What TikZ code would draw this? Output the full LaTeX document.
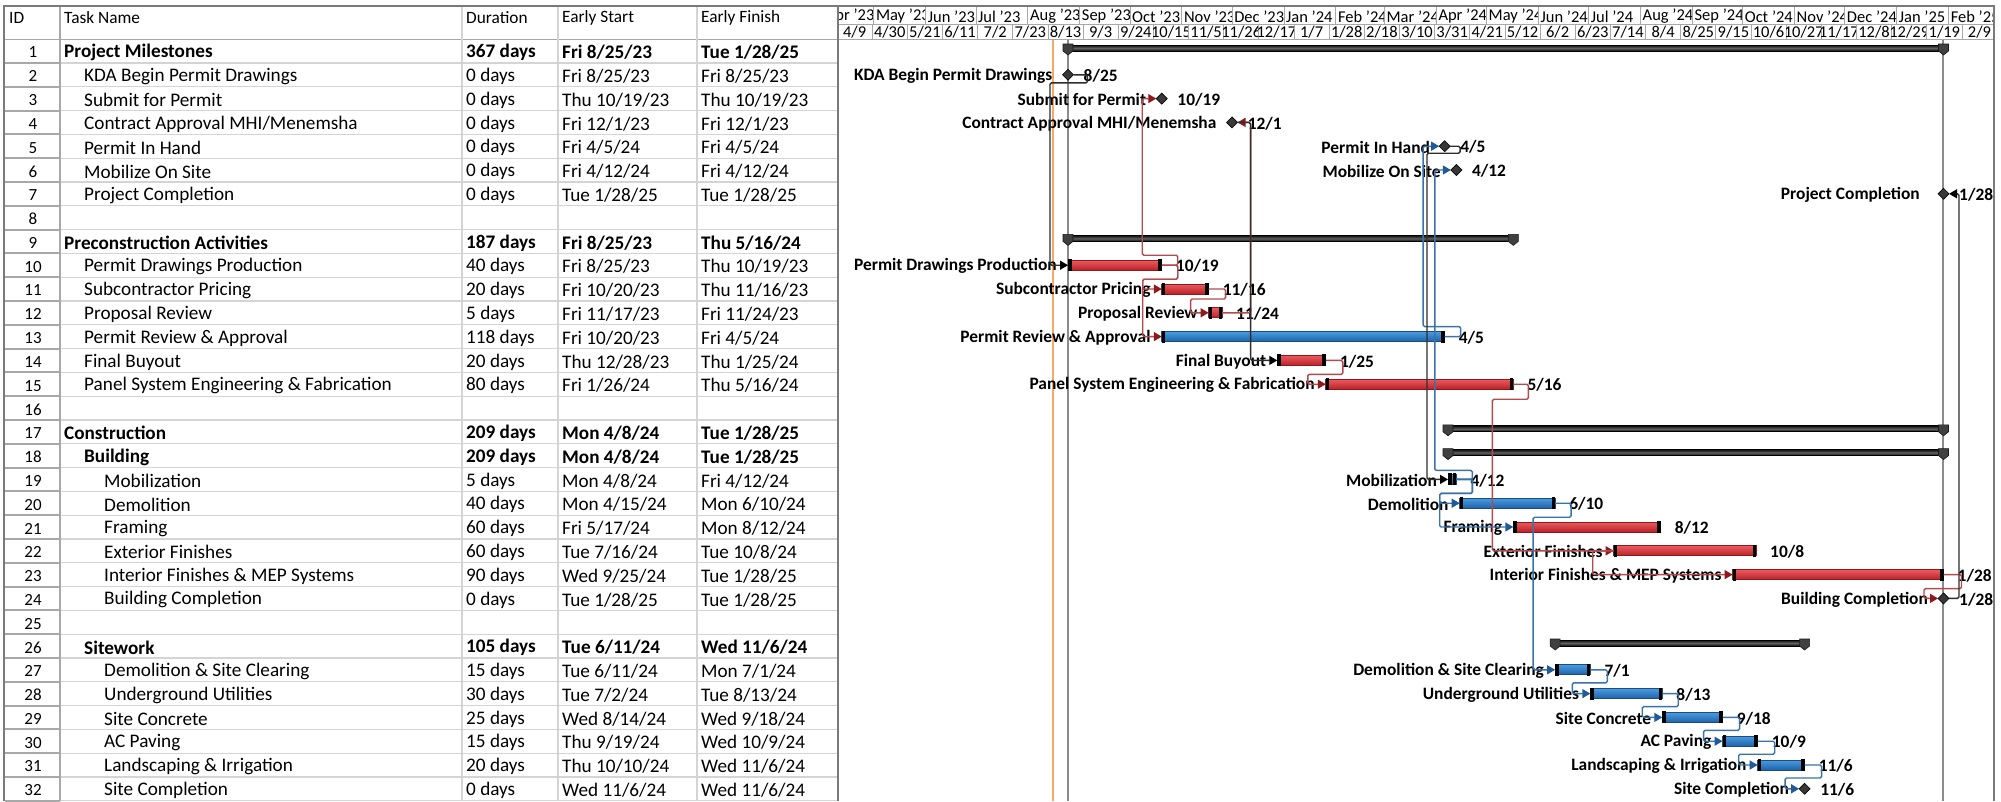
\documentclass[tikz,border=0pt]{standalone}
\usepackage{fontspec}
\setmainfont{Carlito}
\usetikzlibrary{arrows.meta,shapes.geometric}
\definecolor{redT}{HTML}{EC5A5E}
\definecolor{redD}{HTML}{B82228}
\definecolor{redB}{HTML}{8A1A1E}
\definecolor{bluT}{HTML}{4A9BE0}
\definecolor{bluD}{HTML}{1E62A8}
\definecolor{bluB}{HTML}{1A4C80}
\definecolor{linkR}{HTML}{B44A4E}
\definecolor{arrR}{HTML}{8E1A1E}
\definecolor{linkB}{HTML}{3A73AC}
\definecolor{arrB}{HTML}{1F5B98}
\definecolor{linkK}{HTML}{2E2E2E}
\definecolor{orangeL}{HTML}{F6A868}
\definecolor{gridL}{HTML}{D4D4D4}
\definecolor{gridM}{HTML}{A8A8A8}
\definecolor{frameC}{HTML}{7A7A7A}
\definecolor{projL}{HTML}{8C8C8C}

\newcommand\tbar[7]{%
  \pgfmathsetmacro\xa{1068+1.674*(#3)}%
  \pgfmathsetmacro\xb{1068+1.674*(#4)}%
  \pgfmathsetmacro\yy{51+23.8*(#2-1)}%
  \pgfmathsetmacro\ww{\xb-\xa}%
  \node[#5, minimum width=\ww pt, anchor=west] (#1) at (\xa,\yy) {};
  \fill[black] (\xa,\yy-6) rectangle (\xa+3.5,\yy+6);
  \fill[black] (\xb-3.5,\yy-6) rectangle (\xb,\yy+6);
  \node[clabel, anchor=east] (#1n) at ([xshift=-11pt,yshift=-1pt]#1.west) {#6};
  \node[clabel, anchor=west] (#1d) at ([xshift=14pt,yshift=-1pt]#1.east) {#7};
}
\newcommand\mst[6]{%
  \pgfmathsetmacro\xa{1068+1.674*(#3)}%
  \pgfmathsetmacro\yy{51+23.8*(#2-1)}%
  \node[msd] (#1) at (\xa,\yy) {};
  \node[clabel, anchor=east] (#1n) at ([xshift=-#6pt,yshift=-1pt]#1.west) {#4};
  \node[clabel, anchor=west] (#1d) at ([xshift=10pt,yshift=-1pt]#1.east) {#5};
}
\newcommand\sbar[4]{%
  \pgfmathsetmacro\xa{1068+1.674*(#3)}%
  \pgfmathsetmacro\xb{1068+1.674*(#4)}%
  \pgfmathsetmacro\yy{51+23.8*(#2-1)}%
  \pgfmathsetmacro\ww{\xb-\xa}%
  \node[sumbar, minimum width=\ww pt, anchor=west] (#1) at (\xa,\yy-3) {};
  \filldraw[sumcap] (\xa-5,\yy-7) -- (\xa+5,\yy-7) -- (\xa+5,\yy) -- (\xa,\yy+4) -- (\xa-5,\yy) -- cycle;
  \filldraw[sumcap] (\xb-5,\yy-7) -- (\xb+5,\yy-7) -- (\xb+5,\yy) -- (\xb,\yy+4) -- (\xb-5,\yy) -- cycle;
}
\newcommand\trow[7]{%
  \pgfmathsetmacro\yy{51+23.8*(#1-1)+1.5}%
  \node[idf] (id#1) at (33,\yy) {#1};
  \node[#3, anchor=west] (tn#1) at (#2,\yy) {#4};
  \node[#3, anchor=west] (du#1) at (466,\yy) {#5};
  \node[#3, anchor=west] (es#1) at (562,\yy) {#6};
  \node[#3, anchor=west] (ef#1) at (701,\yy) {#7};
}
\newcommand\erow[1]{%
  \pgfmathsetmacro\yy{51+23.8*(#1-1)+1.5}%
  \node[idf] (id#1) at (33,\yy) {#1};
}

\begin{document}
\begin{tikzpicture}[x=1pt,y=-1pt,
  redbar/.style={draw=redB, line width=0.8pt, top color=redT, bottom color=redD, minimum height=10pt, inner sep=0pt, outer sep=0pt},
  bluebar/.style={draw=bluB, line width=0.8pt, top color=bluT, bottom color=bluD, minimum height=10pt, inner sep=0pt, outer sep=0pt},
  sumbar/.style={draw=black, line width=0.8pt, top color=black!95, bottom color=black!95, middle color=black!62, minimum height=6pt, inner sep=0pt, outer sep=0pt},
  sumcap/.style={fill=black!75, draw=black!90, line width=0.6pt},
  msd/.style={diamond, aspect=1, minimum width=11pt, minimum height=11pt, inner sep=0pt, outer sep=0pt, fill=black!78, draw=black, line width=0.6pt},
  clabel/.style={font=\fontsize{17.4}{19}\selectfont\bfseries, inner sep=0pt, text=black},
  treg/.style={font=\fontsize{19.2}{21}\selectfont, inner sep=0pt},
  tbold/.style={font=\fontsize{19.2}{21}\selectfont\bfseries, inner sep=0pt},
  idf/.style={font=\fontsize{17}{19}\selectfont, inner sep=0pt},
  hdr/.style={font=\fontsize{17.3}{19}\selectfont, inner sep=0pt, anchor=west},
  tsf/.style={font=\fontsize{16.5}{18}\selectfont, inner sep=0pt},
  rlink/.style={draw=linkR, line width=1.4pt, rounded corners=1.5pt, -{Triangle[length=8pt,width=9pt,color=arrR]}},
  blink/.style={draw=linkB, line width=1.4pt, rounded corners=1.5pt, -{Triangle[length=8pt,width=9pt,color=arrB]}},
  klink/.style={draw=linkK, line width=1.4pt, rounded corners=1.5pt, -{Triangle[length=8pt,width=9pt,color=black]}}
]
\useasboundingbox (0,0) rectangle (2001,801);
\fill[white] (0,0) rectangle (2001,801);

% ---------- table grid ----------
\foreach \r in {1,...,32} {
  \pgfmathsetmacro\yb{51+23.8*(\r-1)+11.9}
  \draw[gridL, line width=1.2pt] (60,\yb) -- (838,\yb);
  \draw[gridM, line width=2pt] (5,\yb) -- (60,\yb);
}
\draw[gridM, line width=1.5pt] (5,39.5) -- (838,39.5);
\foreach \x in {462,558,697} \draw[gridL, line width=1.2pt] (\x,7) -- (\x,801);
\draw[gridM, line width=2pt] (60,7) -- (60,801);

% ---------- table header ----------
\node[hdr] (hid) at (9,18) {ID};
\node[hdr] (htn) at (64,18) {Task Name};
\node[hdr] (hdu) at (466,18) {Duration};
\node[hdr] (hes) at (562,18) {Early Start};
\node[hdr] (hef) at (701,18) {Early Finish};

% ---------- table rows ----------
\trow{1}{64}{tbold}{Project Milestones}{367 days}{Fri 8/25/23}{Tue 1/28/25}
\trow{2}{84}{treg}{KDA Begin Permit Drawings}{0 days}{Fri 8/25/23}{Fri 8/25/23}
\trow{3}{84}{treg}{Submit for Permit}{0 days}{Thu 10/19/23}{Thu 10/19/23}
\trow{4}{84}{treg}{Contract Approval MHI/Menemsha}{0 days}{Fri 12/1/23}{Fri 12/1/23}
\trow{5}{84}{treg}{Permit In Hand}{0 days}{Fri 4/5/24}{Fri 4/5/24}
\trow{6}{84}{treg}{Mobilize On Site}{0 days}{Fri 4/12/24}{Fri 4/12/24}
\trow{7}{84}{treg}{Project Completion}{0 days}{Tue 1/28/25}{Tue 1/28/25}
\erow{8}
\trow{9}{64}{tbold}{Preconstruction Activities}{187 days}{Fri 8/25/23}{Thu 5/16/24}
\trow{10}{84}{treg}{Permit Drawings Production}{40 days}{Fri 8/25/23}{Thu 10/19/23}
\trow{11}{84}{treg}{Subcontractor Pricing}{20 days}{Fri 10/20/23}{Thu 11/16/23}
\trow{12}{84}{treg}{Proposal Review}{5 days}{Fri 11/17/23}{Fri 11/24/23}
\trow{13}{84}{treg}{Permit Review \& Approval}{118 days}{Fri 10/20/23}{Fri 4/5/24}
\trow{14}{84}{treg}{Final Buyout}{20 days}{Thu 12/28/23}{Thu 1/25/24}
\trow{15}{84}{treg}{Panel System Engineering \& Fabrication}{80 days}{Fri 1/26/24}{Thu 5/16/24}
\erow{16}
\trow{17}{64}{tbold}{Construction}{209 days}{Mon 4/8/24}{Tue 1/28/25}
\trow{18}{84}{tbold}{Building}{209 days}{Mon 4/8/24}{Tue 1/28/25}
\trow{19}{104}{treg}{Mobilization}{5 days}{Mon 4/8/24}{Fri 4/12/24}
\trow{20}{104}{treg}{Demolition}{40 days}{Mon 4/15/24}{Mon 6/10/24}
\trow{21}{104}{treg}{Framing}{60 days}{Fri 5/17/24}{Mon 8/12/24}
\trow{22}{104}{treg}{Exterior Finishes}{60 days}{Tue 7/16/24}{Tue 10/8/24}
\trow{23}{104}{treg}{Interior Finishes \& MEP Systems}{90 days}{Wed 9/25/24}{Tue 1/28/25}
\trow{24}{104}{treg}{Building Completion}{0 days}{Tue 1/28/25}{Tue 1/28/25}
\erow{25}
\trow{26}{84}{tbold}{Sitework}{105 days}{Tue 6/11/24}{Wed 11/6/24}
\trow{27}{104}{treg}{Demolition \& Site Clearing}{15 days}{Tue 6/11/24}{Mon 7/1/24}
\trow{28}{104}{treg}{Underground Utilities}{30 days}{Tue 7/2/24}{Tue 8/13/24}
\trow{29}{104}{treg}{Site Concrete}{25 days}{Wed 8/14/24}{Wed 9/18/24}
\trow{30}{104}{treg}{AC Paving}{15 days}{Thu 9/19/24}{Wed 10/9/24}
\trow{31}{104}{treg}{Landscaping \& Irrigation}{20 days}{Thu 10/10/24}{Wed 11/6/24}
\trow{32}{104}{treg}{Site Completion}{0 days}{Wed 11/6/24}{Wed 11/6/24}

% ---------- timescale ----------
\foreach \s/\e/\t [count=\i] in {-146/-116/{Apr '23},-116/-85/{May '23},-85/-55/{Jun '23},-55/-24/{Jul '23},-24/7/{Aug '23},7/37/{Sep '23},37/68/{Oct '23},68/98/{Nov '23},98/129/{Dec '23},129/160/{Jan '24},160/189/{Feb '24},189/220/{Mar '24},220/250/{Apr '24},250/281/{May '24},281/311/{Jun '24},311/342/{Jul '24},342/373/{Aug '24},373/403/{Sep '24},403/434/{Oct '24},434/464/{Nov '24},464/495/{Dec '24},495/526/{Jan '25},526/554/{Feb '25}} {
  \pgfmathsetmacro\xa{max(838,1068+1.674*(\s))}
  \pgfmathsetmacro\xb{min(1994,1068+1.674*(\e))}
  \pgfmathsetmacro\xt{1068+1.674*(\s)+2}
  \begin{scope}
    \clip (\xa,7) rectangle (\xb,24);
    \node[tsf, anchor=west] (mon\i) at (\xt,16.5) {\t};
  \end{scope}
  \draw[gridM, line width=0.8pt] (\xb,7) -- (\xb,24);
}
\foreach \s/\t [count=\i] in {-159/{3/19},-138/{4/9},-117/{4/30},-96/{5/21},-75/{6/11},-54/{7/2},-33/{7/23},-12/{8/13},9/{9/3},30/{9/24},51/{10/15},72/{11/5},93/{11/26},114/{12/17},135/{1/7},156/{1/28},177/{2/18},198/{3/10},219/{3/31},240/{4/21},261/{5/12},282/{6/2},303/{6/23},324/{7/14},345/{8/4},366/{8/25},387/{9/15},408/{10/6},429/{10/27},450/{11/17},471/{12/8},492/{12/29},513/{1/19},534/{2/9}} {
  \pgfmathsetmacro\xa{max(838,1068+1.674*(\s))}
  \pgfmathsetmacro\xb{min(1994,1068+1.674*(\s+21))}
  \pgfmathsetmacro\xt{1068+1.674*(\s+10.5)}
  \begin{scope}
    \clip (\xa,24) rectangle (\xb,39.5);
    \node[tsf] (wk\i) at (\xt,32) {\t};
  \end{scope}
  \draw[gridM, line width=0.8pt] (\xb,24) -- (\xb,39.5);
}
\draw[gridM, line width=0.8pt] (838,24) -- (1994,24);
\draw[gridM, line width=1.2pt] (838,39.5) -- (1994,39.5);

% ---------- frame ----------
\draw[frameC, line width=2.5pt] (838,7) -- (838,801);
\draw[frameC, line width=1.5pt] (4,801) -- (4,6) -- (1994,6) -- (1994,801);

% ---------- chart verticals ----------
\draw[orangeL, line width=1.6pt] (1053,40) -- (1053,801);
\draw[projL, line width=2pt] (1068,40) -- (1068,801);
\draw[projL, line width=2pt] (1943,40) -- (1943,801);

% ---------- summaries ----------
\sbar{s1}{1}{0}{523}
\sbar{s9}{9}{0}{266}
\sbar{s17}{17}{227}{523}
\sbar{s18}{18}{227}{523}
\sbar{s26}{26}{291}{440}

% ---------- bars ----------
\tbar{b10}{10}{0}{56}{redbar}{Permit Drawings Production}{10/19}
\tbar{b11}{11}{56}{84}{redbar}{Subcontractor Pricing}{11/16}
\tbar{b12}{12}{84}{92}{redbar}{Proposal Review}{11/24}
\tbar{b13}{13}{56}{225}{bluebar}{Permit Review \& Approval}{4/5}
\tbar{b14}{14}{125}{154}{redbar}{Final Buyout}{1/25}
\tbar{b15}{15}{154}{266}{redbar}{Panel System Engineering \& Fabrication}{5/16}
\tbar{b19}{19}{227}{232}{bluebar}{Mobilization}{4/12}
\tbar{b20}{20}{234}{291}{bluebar}{Demolition}{6/10}
\tbar{b21}{21}{266}{354}{redbar}{Framing}{8/12}
\tbar{b22}{22}{326}{411}{redbar}{Exterior Finishes}{10/8}
\tbar{b23}{23}{397}{523}{redbar}{Interior Finishes \& MEP Systems}{1/28}
\tbar{b27}{27}{291}{312}{bluebar}{Demolition \& Site Clearing}{7/1}
\tbar{b28}{28}{312}{355}{bluebar}{Underground Utilities}{8/13}
\tbar{b29}{29}{355}{391}{bluebar}{Site Concrete}{9/18}
\tbar{b30}{30}{391}{412}{bluebar}{AC Paving}{10/9}
\tbar{b31}{31}{412}{440}{bluebar}{Landscaping \& Irrigation}{11/6}

% ---------- milestones ----------
\mst{m2}{2}{0}{KDA Begin Permit Drawings}{8/25}{10}
\mst{m3}{3}{56}{Submit for Permit}{10/19}{10}
\mst{m4}{4}{98}{Contract Approval MHI/Menemsha}{12/1}{10}
\mst{m5}{5}{225}{Permit In Hand}{4/5}{9}
\mst{m6}{6}{232}{Mobilize On Site}{4/12}{10}
\mst{m7}{7}{523}{Project Completion}{1/28}{18}
\mst{m24}{24}{523}{Building Completion}{1/28}{10}
\mst{m32}{32}{440}{Site Completion}{11/6}{10}

% ---------- connectors ----------
\draw[klink] (m2.east) -- ++(14,0) -- ++(0,8) -| ([xshift=-18pt]b10.west) -- (b10.west);
\draw[rlink] (b10.east) -- ++(16,0) -- ++(0,-10) -| ([xshift=-14pt]m3.west) -- (m3.west);
\draw[rlink] (b10.east) -- ++(16,0) -- ++(0,14) -| ([xshift=-19pt]b11.west) -- (b11.west);
\draw[rlink] (b10.east) -- ++(16,0) -- ++(0,14) -| ([xshift=-19pt]b13.west) -- (b13.west);
\draw[rlink] (b11.east) -- ++(17,0) -- ++(0,10) -| ([xshift=-18pt]b12.west) -- (b12.west);
\draw[rlink] (b12.east) -| ([xshift=13pt]m4.east) -- (m4.east);
\draw[klink] (m4.east) -- ++(13,0) |- (b14.west);
\draw[rlink] (b14.east) -- ++(17,0) -- ++(0,14) -| ([xshift=-18pt]b15.west) -- (b15.west);
\draw[blink] (b13.east) -- ++(16,0) -- ++(0,-10) -| ([xshift=-16pt]m5.west) -- (m5.west);
\draw[klink] (m5.east) -- ++(10,0) -- ++(0,7) -| ([xshift=-21pt]b19.west) -- (b19.west);
\draw[blink] (b19.east) -- ++(16,0) -- ++(0,-9) -| ([xshift=-16pt]m6.west) -- (m6.west);
\draw[blink] (b19.east) -- ++(16,0) -- ++(0,14) -| ([xshift=-20pt]b20.west) -- (b20.west);
\draw[blink] (b19.east) -- ++(16,0) -- ++(0,14) -| ([xshift=-73.6pt]b21.west) -- (b21.west);
\draw[rlink] (b15.east) -- ++(15,0) -- ++(0,15) -| ([xshift=-21pt]b21.west) |- (b22.west);
\draw[rlink] (b22.west) -- ++(-21,0) |- (b23.west);
\draw[blink] (b20.east) -- ++(16,0) -- ++(0,14) -| ([xshift=-22pt]b27.west) -- (b27.west);
\draw[rlink] (b23.east) -- ++(18,0) -- ++(0,14) -| ([xshift=-14pt]m24.west) -- (m24.west);
\draw[klink] (m24.east) -- ++(10,0) |- (m7.east);
\draw[blink] (b27.east) -- ++(17,0) -- ++(0,13) -| ([xshift=-18pt]b28.west) -- (b28.west);
\draw[blink] (b28.east) -- ++(16,0) -- ++(0,13) -| ([xshift=-20pt]b29.west) -- (b29.west);
\draw[blink] (b29.east) -- ++(17,0) -- ++(0,13) -| ([xshift=-19pt]b30.west) -- (b30.west);
\draw[blink] (b30.east) -- ++(17,0) -- ++(0,13) -| ([xshift=-19pt]b31.west) -- (b31.west);
\draw[blink] (b31.east) -- ++(17,0) -- ++(0,13) -| ([xshift=-14pt]m32.west) -- (m32.west);
\end{tikzpicture}
\end{document}
